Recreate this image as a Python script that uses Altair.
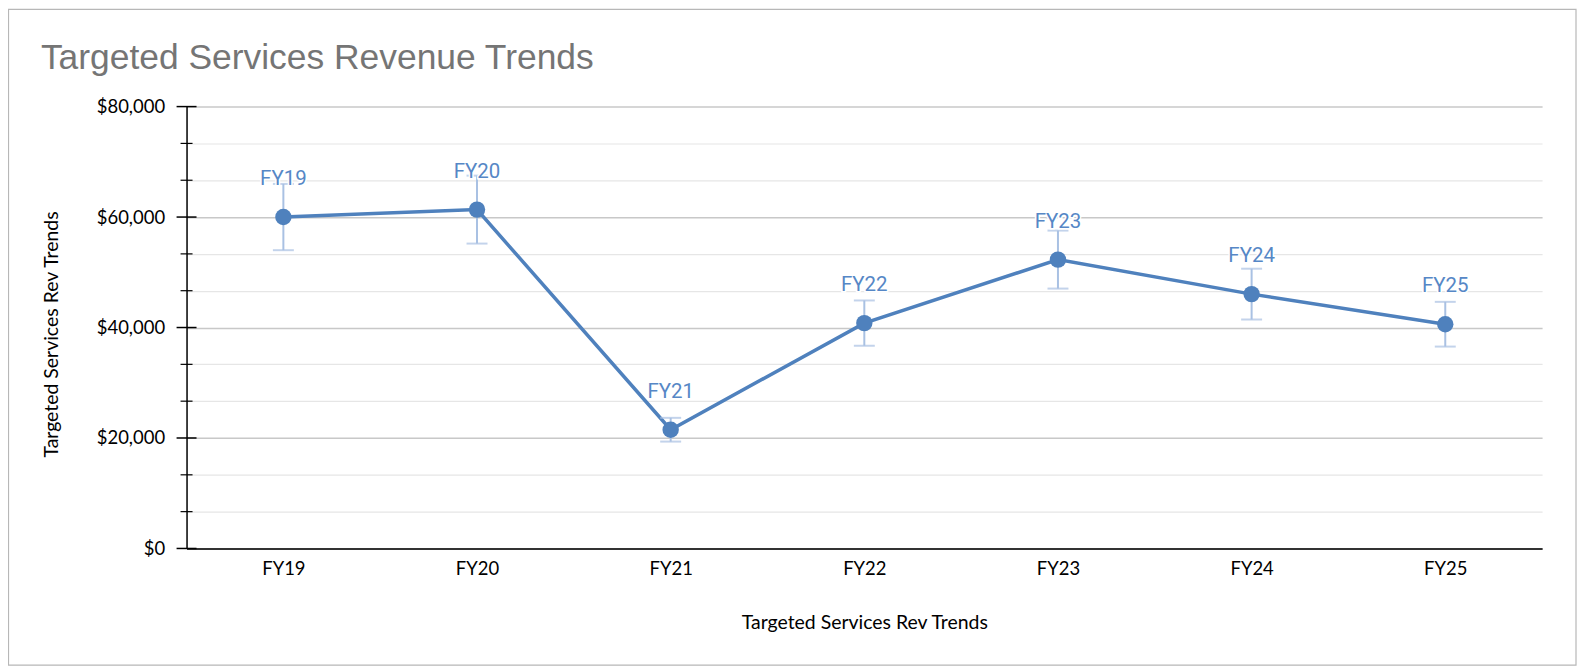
import altair as alt
import pandas as pd

# ---- data ----
years = ["FY19", "FY20", "FY21", "FY22", "FY23", "FY24", "FY25"]
revenue = [60000, 61350, 21500, 40800, 52300, 46050, 40600]
err_low = [54000, 55200, 19350, 36700, 47050, 41450, 36550]
err_high = [66000, 67500, 23650, 44900, 57550, 50650, 44650]

major_ticks = [0, 20000, 40000, 60000, 80000]
minor_ticks = [6666.67, 13333.33, 26666.67, 33333.33, 46666.67, 53333.33, 66666.67, 73333.33]

chart_title = "Targeted Services Revenue Trends"
axis_title = "Targeted Services Rev Trends"

df = pd.DataFrame({"year": years, "revenue": revenue, "low": err_low, "high": err_high})
all_ticks = sorted(major_ticks + minor_ticks)

W, H = 1359, 443
LINE = "#4f81bd"
ERR = "#a9c1e3"
LABEL = "#5687c6"
FONT = "Lato"

is_major = "abs(datum.value % 20000) < 1"

xs = alt.Scale(type="point", padding=0.5)
ys = alt.Scale(domain=[0, 80000], nice=False, zero=True)

x_axis = alt.Axis(
    title=axis_title, labelAngle=0, ticks=False, domainColor="#333333", domainWidth=2,
    labelFont=FONT, labelFontSize=18.5, labelColor="#000000", labelPadding=11,
    titleFont=FONT, titleFontSize=19.5, titleFontWeight="normal", titleColor="#000000",
    titleX=W / 2, titleY=80, titleAlign="center", titleBaseline="alphabetic", grid=False,
)
y_axis = alt.Axis(
    title=axis_title, values=all_ticks,
    labelExpr=f"{is_major} ? format(datum.value, '$,.0f') : ''",
    ticks=False, domainColor="#000000", domainWidth=1.5,
    labelFont=FONT, labelFontSize=18.5, labelColor="#000000", labelPadding=22,
    grid=True,
    gridColor={"condition": {"test": is_major, "value": "#c8c8c8"}, "value": "#e6e6e6"},
    gridWidth={"condition": {"test": is_major, "value": 1.5}, "value": 1.2},
    titleFont=FONT, titleFontSize=19.5, titleFontWeight="normal", titleColor="#000000",
    titleAngle=-90, titleX=-129, titleY=228, titleAlign="center", titleBaseline="alphabetic",
)

base = alt.Chart(df)
X = alt.X("year:N", sort=years, scale=xs, axis=x_axis)


def Y(field):
    return alt.Y(field, scale=ys, axis=y_axis)


border = alt.Chart(alt.Data(values=[{"k": 1}])).mark_rect(
    fill="white", fillOpacity=0, stroke="#b7b7b7", strokeWidth=1.2
).encode(x=alt.value(-178.5), x2=alt.value(1393), y=alt.value(-97.5), y2=alt.value(560))

title = alt.Chart(alt.Data(values=[{"t": chart_title}])).mark_text(
    font="Liberation Sans", fontSize=35.5, color="#757575", align="left", baseline="alphabetic"
).encode(text="t:N", x=alt.value(-146), y=alt.value(-38))

line = base.mark_line(color=LINE, strokeWidth=3.5).encode(x=X, y=Y("revenue:Q"))
err_rule = base.mark_rule(color=ERR, strokeWidth=2).encode(x=X, y=Y("low:Q"), y2="high:Q")
cap_low = base.mark_tick(color=ERR, thickness=2, size=21).encode(x=X, y=Y("low:Q"))
cap_high = base.mark_tick(color=ERR, thickness=2, size=21).encode(x=X, y=Y("high:Q"))
points = base.mark_circle(color=LINE, size=270, opacity=1).encode(x=X, y=Y("revenue:Q"))
halo = base.mark_text(
    font="Roboto", fontSize=20.5, color="white", stroke="white", strokeWidth=3,
    baseline="alphabetic", dy=-32
).encode(x=X, y=Y("revenue:Q"), text="year:N")
labels = base.mark_text(
    font="Roboto", fontSize=20.5, color=LABEL, baseline="alphabetic", dy=-32
).encode(x=X, y=Y("revenue:Q"), text="year:N")

major_tk = alt.Chart(pd.DataFrame({"v": major_ticks})).mark_rule(color="#000000", strokeWidth=1.5).encode(
    y=Y("v:Q"), x=alt.value(-10), x2=alt.value(10)
)
minor_tk = alt.Chart(pd.DataFrame({"v": minor_ticks})).mark_rule(color="#000000", strokeWidth=1.2).encode(
    y=Y("v:Q"), x=alt.value(-6), x2=alt.value(6)
)

chart = alt.layer(
    border, title, line, err_rule, cap_low, cap_high, halo, labels, points, major_tk, minor_tk
).properties(
    width=W, height=H,
    autosize=alt.AutoSizeParams(type="none"),
    padding={"left": 179, "top": 98, "right": 35, "bottom": 118},
    background="white",
).configure_view(stroke=None)

chart.save("out.html", embed_options={"renderer": "svg", "actions": False})
